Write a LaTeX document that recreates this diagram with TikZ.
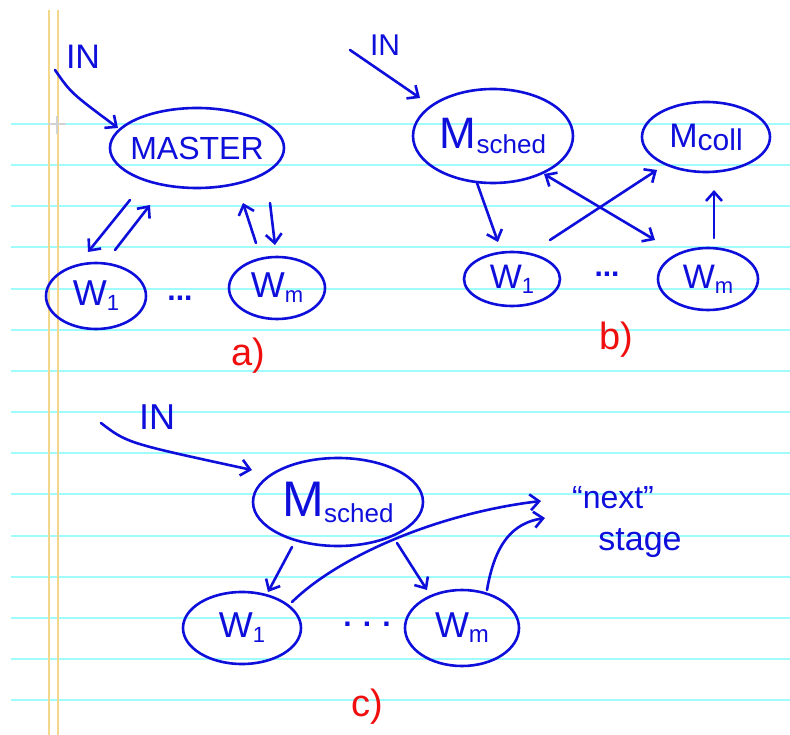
\documentclass[tikz,border=0pt]{standalone}
\usepackage{fontspec}
\setmainfont{Liberation Sans}
\usetikzlibrary{arrows.meta,calc,shapes.geometric}
\definecolor{ink}{RGB}{15,15,220}
\definecolor{redink}{RGB}{240,15,15}
\definecolor{paperrule}{RGB}{160,252,252}
\definecolor{marginline}{RGB}{245,215,140}
\newcommand\zb[1]{\makebox[0pt]{#1}}
\newcommand\fs[1]{\fontsize{#1}{#1}\selectfont}
\begin{document}
\begin{tikzpicture}[x=1pt,y=-1pt,
  ell/.style={draw=ink, line width=2.6pt, ellipse, inner sep=0pt, outer sep=0pt, text=ink},
  barb/.tip={Straight Barb[length=9pt,width=16pt]},
  arr/.style={draw=ink, line width=2.6pt, line cap=round, line join=round, -barb},
  darr/.style={draw=ink, line width=2.6pt, line cap=round, line join=round, barb-barb},
  txt/.style={text=ink, inner sep=0pt},
  lbl/.style={text=redink, inner sep=0pt, font=\fs{38}}]
% paper
\fill[white] (0,0) rectangle (790,735);
\useasboundingbox (0,0) rectangle (790,735);
\foreach \i in {0,...,14} {\draw[paperrule, line width=2pt] (11,124+41.15*\i) -- (790,124+41.15*\i);}
\draw[marginline, line width=1.3pt] (49,10) -- (49,735);
\draw[marginline, line width=1.3pt] (58,10) -- (58,735);
\draw[gray!35, line width=1.5pt] (48,124) -- (66,124) (57,116) -- (57,134);

% ---------- a) ----------
\node[ell, minimum width=174, minimum height=80] (master) at (197,148) {\zb{\fs{32}MASTER}};
\node[ell, minimum width=100, minimum height=66] (aw1) at (96,296) {\zb{\fs{36}W\raisebox{-5pt}{\fs{22}1}}};
\node[ell, minimum width=96, minimum height=62] (awm) at (277,288) {\zb{\fs{36}W\raisebox{-5pt}{\fs{22}m}}};
\node[txt, font=\fs{34}] (ina) at (83,57) {IN};
\node[txt, font=\fs{30}\bfseries] (adots) at (180,298) {...};
\node[lbl] (alab) at (248,356) {a)};
\draw[arr] ($(ina)+(-28,13)$) .. controls ($(ina)+(-12,36)$) .. ($(master)+(-79,-20)$);
\draw[arr] ($(master)+(-67,52)$) -- ($(aw1)+(-8,-44)$);
\draw[arr] ($(aw1)+(19,-46)$) -- ($(master)+(-47,57)$);
\draw[arr] ($(awm)+(-21,-45)$) -- ($(master)+(46,55)$);
\draw[arr] ($(master)+(73,55)$) -- ($(awm)+(-2,-43)$);

% ---------- b) ----------
\node[ell, minimum width=160, minimum height=94] (bs) at (493,136) {\zb{\fs{44}M\raisebox{-5pt}{\fs{26}sched}}};
\node[ell, minimum width=128, minimum height=70] (bc) at (706,137) {\zb{\fs{34}M\raisebox{-3pt}{\fs{30}coll}}};
\node[ell, minimum width=96, minimum height=54] (bw1) at (512,279) {\zb{\fs{34}W\raisebox{-5pt}{\fs{22}1}}};
\node[ell, minimum width=100, minimum height=62] (bwm) at (708,279) {\zb{\fs{34}W\raisebox{-5pt}{\fs{22}m}}};
\node[txt, font=\fs{30}] (inb) at (385,45) {IN};
\node[txt, font=\fs{30}\bfseries] (bdots) at (607,274) {...};
\node[lbl] (blab) at (616,340) {b)};
\draw[arr] ($(inb)+(-35,5)$) -- ($(bs)+(-73,-38)$);
\draw[arr] ($(bs)+(-16,47)$) -- ($(bw1)+(-14,-37)$);
\draw[darr] ($(bs)+(51,38)$) -- ($(bwm)+(-53,-39)$);
\draw[arr] ($(bw1)+(38,-39)$) -- ($(bc)+(-49,33)$);
\draw[arr] ($(bwm)+(6,-41)$) -- ($(bc)+(8,53)$);

% ---------- c) ----------
\node[ell, minimum width=170, minimum height=88] (cs) at (338,502) {\zb{\fs{50}M\raisebox{-6pt}{\fs{26}sched}}};
\node[ell, minimum width=118, minimum height=72] (cw1) at (242,628) {\zb{\fs{36}W\raisebox{-5pt}{\fs{22}1}}};
\node[ell, minimum width=114, minimum height=76] (cwm) at (462,628) {\zb{\fs{36}W\raisebox{-5pt}{\fs{24}m}}};
\node[txt, font=\fs{36}] (inc) at (157,417) {IN};
\node[txt, font=\fs{32}] (nxt) at (613,498) {“next”};
\node[txt, font=\fs{34}] (stg) at (640,543) {stage};
\node[txt, font=\fs{30}\bfseries] (cdots) at (367,624) {. . .};
\node[lbl] (clab) at (367,707) {c)};
\draw[arr] ($(inc)+(-56,6)$) .. controls ($(inc)+(-30,26)$) .. ($(cs)+(-86,-32)$);
\draw[arr] ($(cs)+(-46,45)$) -- ($(cw1)+(26,-36)$);
\draw[arr] ($(cs)+(59,41)$) -- ($(cwm)+(-35,-38)$);
\draw[arr] ($(cw1)+(50,-26)$) .. controls ($(cw1)+(98,-73)$) and ($(nxt)+(-173,15)$) .. ($(nxt)+(-72,3)$);
\draw[arr] ($(cwm)+(25,-38)$) .. controls ($(cwm)+(33,-85)$) and ($(nxt)+(-100,25)$) .. ($(nxt)+(-68,20)$);
\end{tikzpicture}
\end{document}
